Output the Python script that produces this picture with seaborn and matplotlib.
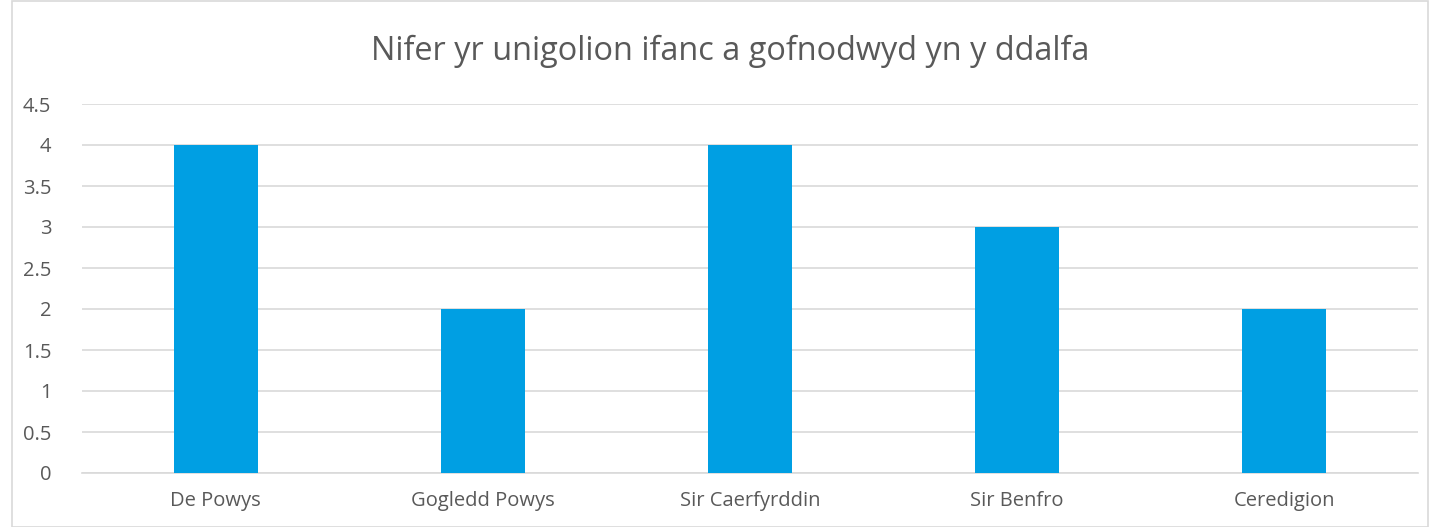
import matplotlib
matplotlib.use("Agg")
import matplotlib.pyplot as plt
import seaborn as sns
import pandas as pd
from matplotlib.patches import Rectangle

regions = ["De Powys", "Gogledd Powys", "Sir Caerfyrddin", "Sir Benfro", "Ceredigion"]
counts = [4, 2, 4, 3, 2]
yticks = [0, 0.5, 1, 1.5, 2, 2.5, 3, 3.5, 4, 4.5]
title = "Nifer yr unigolion ifanc a gofnodwyd yn y ddalfa"

df = pd.DataFrame({"region": regions, "count": counts})

sns.set_style("white")
plt.rcParams['font.family'] = ['Open Sans', 'DejaVu Sans']
txt = "#595959"

fig = plt.figure(figsize=(14.3, 5.27), dpi=100)
ax = fig.add_axes([82 / 1430, 1 - 473 / 527, (1418 - 82) / 1430, (473 - 104) / 527])

sns.barplot(data=df, x="region", y="count", color="#009FE3", width=0.315,
            saturation=1, linewidth=0, ax=ax, zorder=3)

ax.set_ylim(0, 4.5)
ax.set_xlim(-0.5, len(regions) - 0.5)
ax.set_yticks(yticks)
ax.set_yticklabels([f"{v:g}" for v in yticks])
ax.grid(axis="y", color="#d9d9d9", linewidth=1.2, zorder=0)
for s in ["top", "right", "left"]:
    ax.spines[s].set_visible(False)
ax.spines["bottom"].set_color("#d9d9d9")
ax.spines["bottom"].set_linewidth(1.2)
ax.tick_params(axis="both", length=0, labelsize=14.5, colors=txt)
ax.tick_params(axis="y", pad=22)
ax.tick_params(axis="x", pad=13)
ax.set_xlabel("")
ax.set_ylabel("")

fig.text(730 / 1430, 1 - 51 / 527, title, ha="center", va="center", fontsize=23.4, color=txt)
fig.patches.append(Rectangle((12 / 1430, 0), 1 - 14 / 1430, 1 - 1 / 527,
                             transform=fig.transFigure, fill=False,
                             edgecolor="#d9d9d9", linewidth=1.2))

fig.savefig("out.png", dpi=100)
